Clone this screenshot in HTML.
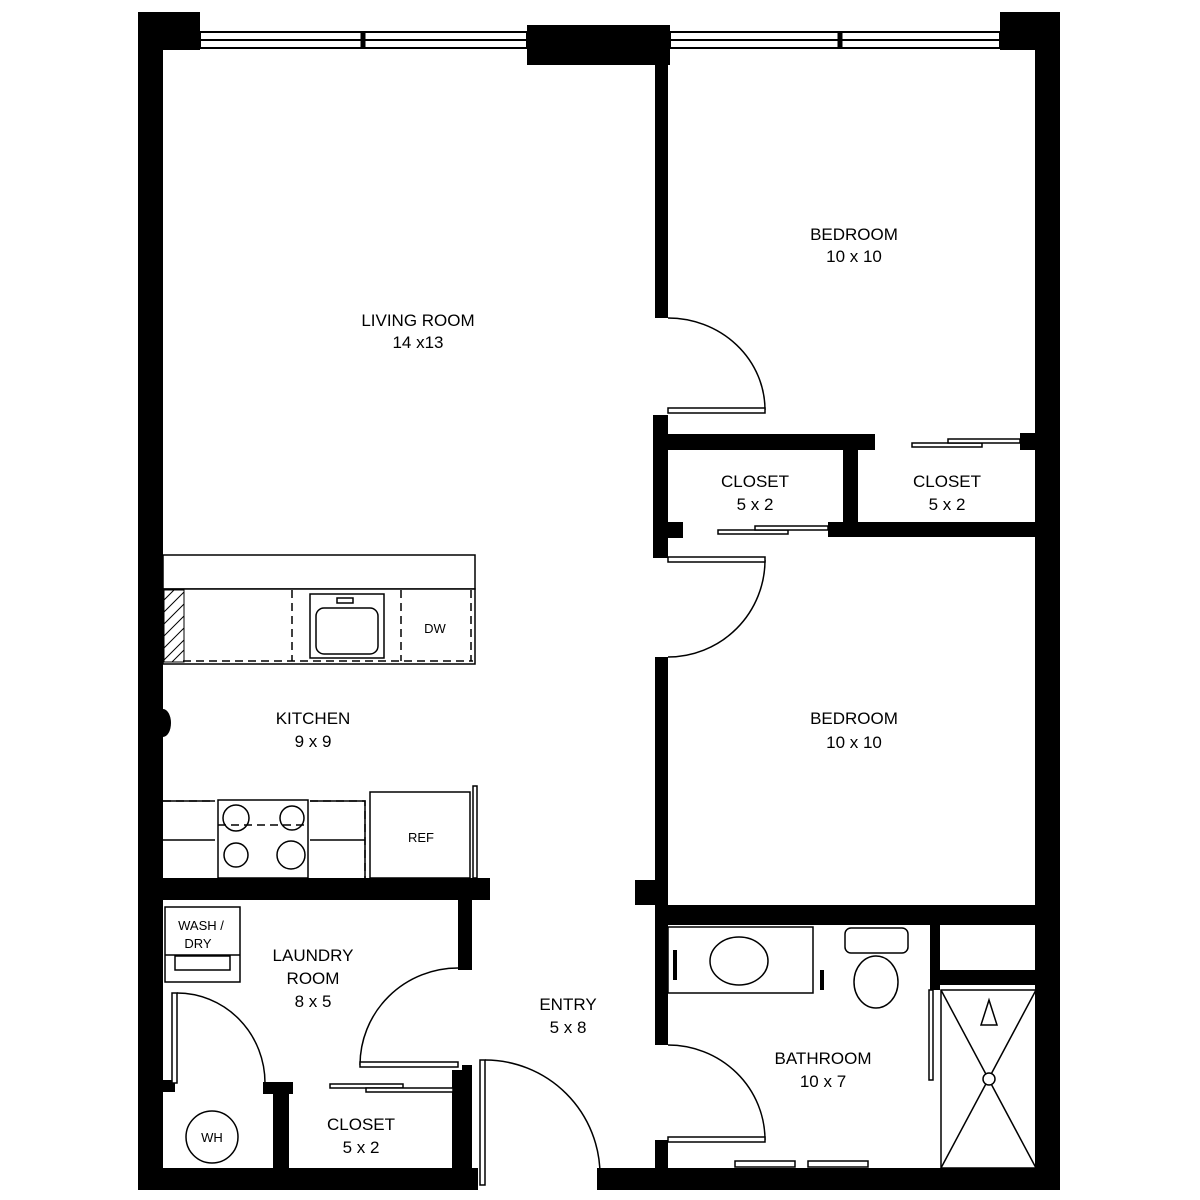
<!DOCTYPE html>
<html><head><meta charset="utf-8"><style>
html,body{margin:0;padding:0;background:#fff;}
svg{display:block}
text{font-family:"Liberation Sans",sans-serif;fill:#000;text-anchor:middle}
</style></head><body>
<svg width="1200" height="1200" viewBox="0 0 1200 1200" xmlns="http://www.w3.org/2000/svg">
<rect width="1200" height="1200" fill="#fff"/>
<g fill="#000">
<!-- outer walls -->
<rect x="138" y="12" width="62" height="38"/>
<rect x="138" y="12" width="25" height="1178"/>
<rect x="1000" y="12" width="40" height="38"/>
<rect x="1035" y="12" width="25" height="1178"/>
<rect x="527" y="25" width="143" height="40"/>
<rect x="138" y="1168" width="340" height="22"/>
<rect x="597" y="1168" width="463" height="22"/>
<!-- interior -->
<rect x="655" y="60" width="13" height="258"/>
<rect x="653" y="415" width="15" height="143"/>
<rect x="653" y="434" width="222" height="16"/>
<rect x="843" y="447" width="15" height="78"/>
<rect x="828" y="522" width="210" height="15"/>
<rect x="668" y="522" width="15" height="16"/>
<rect x="1020" y="433" width="17" height="17"/>
<rect x="655" y="657" width="13" height="388"/>
<rect x="635" y="880" width="22" height="25"/>
<rect x="660" y="905" width="380" height="20"/>
<rect x="930" y="905" width="10" height="85"/>
<rect x="930" y="970" width="110" height="15"/>
<rect x="655" y="1140" width="13" height="50"/>
<rect x="138" y="878" width="352" height="22"/>
<rect x="458" y="898" width="14" height="72"/>
<rect x="163" y="1080" width="12" height="12"/>
<rect x="263" y="1082" width="30" height="12"/>
<rect x="273" y="1082" width="16" height="88"/>
<rect x="452" y="1070" width="18" height="100"/>
<rect x="462" y="1065" width="10" height="105"/>
<ellipse cx="163" cy="723" rx="8" ry="14"/>
</g>
<!-- windows -->
<g fill="#fff" stroke="#000" stroke-width="2">
<rect x="200" y="32" width="327" height="16"/>
<rect x="670" y="32" width="330" height="16"/>
</g>
<g stroke="#000" stroke-width="2" fill="none">
<line x1="200" y1="40" x2="527" y2="40"/><line x1="670" y1="40" x2="1000" y2="40"/>
<line x1="363" y1="32" x2="363" y2="48" stroke-width="5"/><line x1="840" y1="32" x2="840" y2="48" stroke-width="5"/>
</g>
<g stroke="#000" stroke-width="1.5" fill="none">
<!-- bedroom doors -->
<path d="M668 318 A97 92 0 0 1 765 410"/>
<rect x="668" y="408" width="97" height="5" fill="#fff"/>
<path d="M765 560 A97 97 0 0 1 668 657"/>
<rect x="668" y="557" width="97" height="5" fill="#fff"/>
<path d="M668 1045 A97 95 0 0 1 765 1140"/>
<rect x="668" y="1137" width="97" height="5" fill="#fff"/>
<!-- closet sliders -->
<rect x="718" y="530" width="70" height="4" fill="#fff"/>
<rect x="755" y="526" width="73" height="4" fill="#fff"/>
<rect x="912" y="443" width="70" height="4" fill="#fff"/>
<rect x="948" y="439" width="72" height="4" fill="#fff"/>
<rect x="330" y="1084" width="73" height="4" fill="#fff"/>
<rect x="366" y="1088" width="87" height="4" fill="#fff"/>
<!-- laundry door -->
<path d="M360 1065 A98 97 0 0 1 458 968"/>
<rect x="360" y="1062" width="98" height="5" fill="#fff"/>
<!-- WH door -->
<rect x="172" y="993" width="5" height="90" fill="#fff"/>
<path d="M177 993 A88 90 0 0 1 265 1083"/>
<!-- entry door -->
<rect x="480" y="1060" width="5" height="125" fill="#fff"/>
<path d="M485 1060 A115 115 0 0 1 600 1175"/>
<!-- kitchen -->
<rect x="163" y="555" width="312" height="34" fill="#fff"/>
<rect x="163" y="589" width="312" height="75" fill="#fff"/>
<path d="M183 661 H473 M292 590 V661 M401 590 V661 M471 590 V661" stroke-dasharray="8 5"/>
<rect x="310" y="594" width="74" height="64" fill="#fff"/>
<rect x="316" y="608" width="62" height="46" rx="8"/>
<rect x="337" y="598" width="16" height="5"/>
<!-- lower counter -->
<path d="M163 801 H215 M310 801 H365 V878 M163 840 H215 M310 840 H365" />
<path d="M163 801 H215 M310 801 H365 V878" stroke-dasharray="8 5"/>
<rect x="218" y="800" width="90" height="78" fill="#fff"/>
<line x1="218" y1="825" x2="308" y2="825" stroke-dasharray="8 5"/>
<circle cx="236" cy="818" r="13"/><circle cx="292" cy="818" r="12"/>
<circle cx="236" cy="855" r="12"/><circle cx="291" cy="855" r="14"/>
<rect x="370" y="792" width="100" height="86" fill="#fff"/>
<rect x="473" y="786" width="4" height="92" fill="#fff"/>
<!-- laundry -->
<rect x="165" y="907" width="75" height="75" fill="#fff"/>
<line x1="165" y1="955" x2="240" y2="955"/>
<rect x="175" y="956" width="55" height="14"/>
<circle cx="212" cy="1137" r="26"/>
<!-- bath -->
<rect x="668" y="927" width="145" height="66"/>
<ellipse cx="739" cy="961" rx="29" ry="24"/>
<rect x="845" y="928" width="63" height="25" rx="6"/>
<ellipse cx="876" cy="982" rx="22" ry="26"/>
<rect x="929" y="990" width="4" height="90"/>
<rect x="941" y="990" width="95" height="178"/>
<line x1="941" y1="990" x2="1036" y2="1168"/><line x1="1036" y1="990" x2="941" y2="1168"/>
<circle cx="989" cy="1079" r="6" fill="#fff"/>
<polygon points="989,1000 981,1025 997,1025" fill="#fff"/>
<rect x="735" y="1161" width="60" height="6"/><rect x="808" y="1161" width="60" height="6"/>
</g>
<rect x="164" y="590" width="20" height="72" fill="none" stroke="#000"/>
<g stroke="#000" stroke-width="1">
<path d="M164 600 L174 590 M164 612 L184 592 M164 624 L184 604 M164 636 L184 616 M164 648 L184 628 M164 660 L184 640 M172 662 L184 650"/>
</g>
<g stroke="#000" stroke-width="4"><line x1="675" y1="950" x2="675" y2="980"/><line x1="822" y1="970" x2="822" y2="990"/></g>
<g font-size="17">
<text x="418" y="326">LIVING ROOM</text><text x="418" y="348">14 x13</text>
<text x="854" y="240">BEDROOM</text><text x="854" y="262">10 x 10</text>
<text x="755" y="487">CLOSET</text><text x="755" y="510">5 x 2</text>
<text x="947" y="487">CLOSET</text><text x="947" y="510">5 x 2</text>
<text x="313" y="724">KITCHEN</text><text x="313" y="747">9 x 9</text>
<text x="854" y="724">BEDROOM</text><text x="854" y="748">10 x 10</text>
<text x="313" y="961">LAUNDRY</text><text x="313" y="984">ROOM</text><text x="313" y="1007">8 x 5</text>
<text x="568" y="1010">ENTRY</text><text x="568" y="1033">5 x 8</text>
<text x="823" y="1064">BATHROOM</text><text x="823" y="1087">10 x 7</text>
<text x="361" y="1130">CLOSET</text><text x="361" y="1153">5 x 2</text>
</g>
<g font-size="13">
<text x="435" y="633">DW</text><text x="421" y="842">REF</text>
<text x="201" y="930">WASH /</text><text x="198" y="948">DRY</text>
<text x="212" y="1142">WH</text>
</g>
</svg>
</body></html>
